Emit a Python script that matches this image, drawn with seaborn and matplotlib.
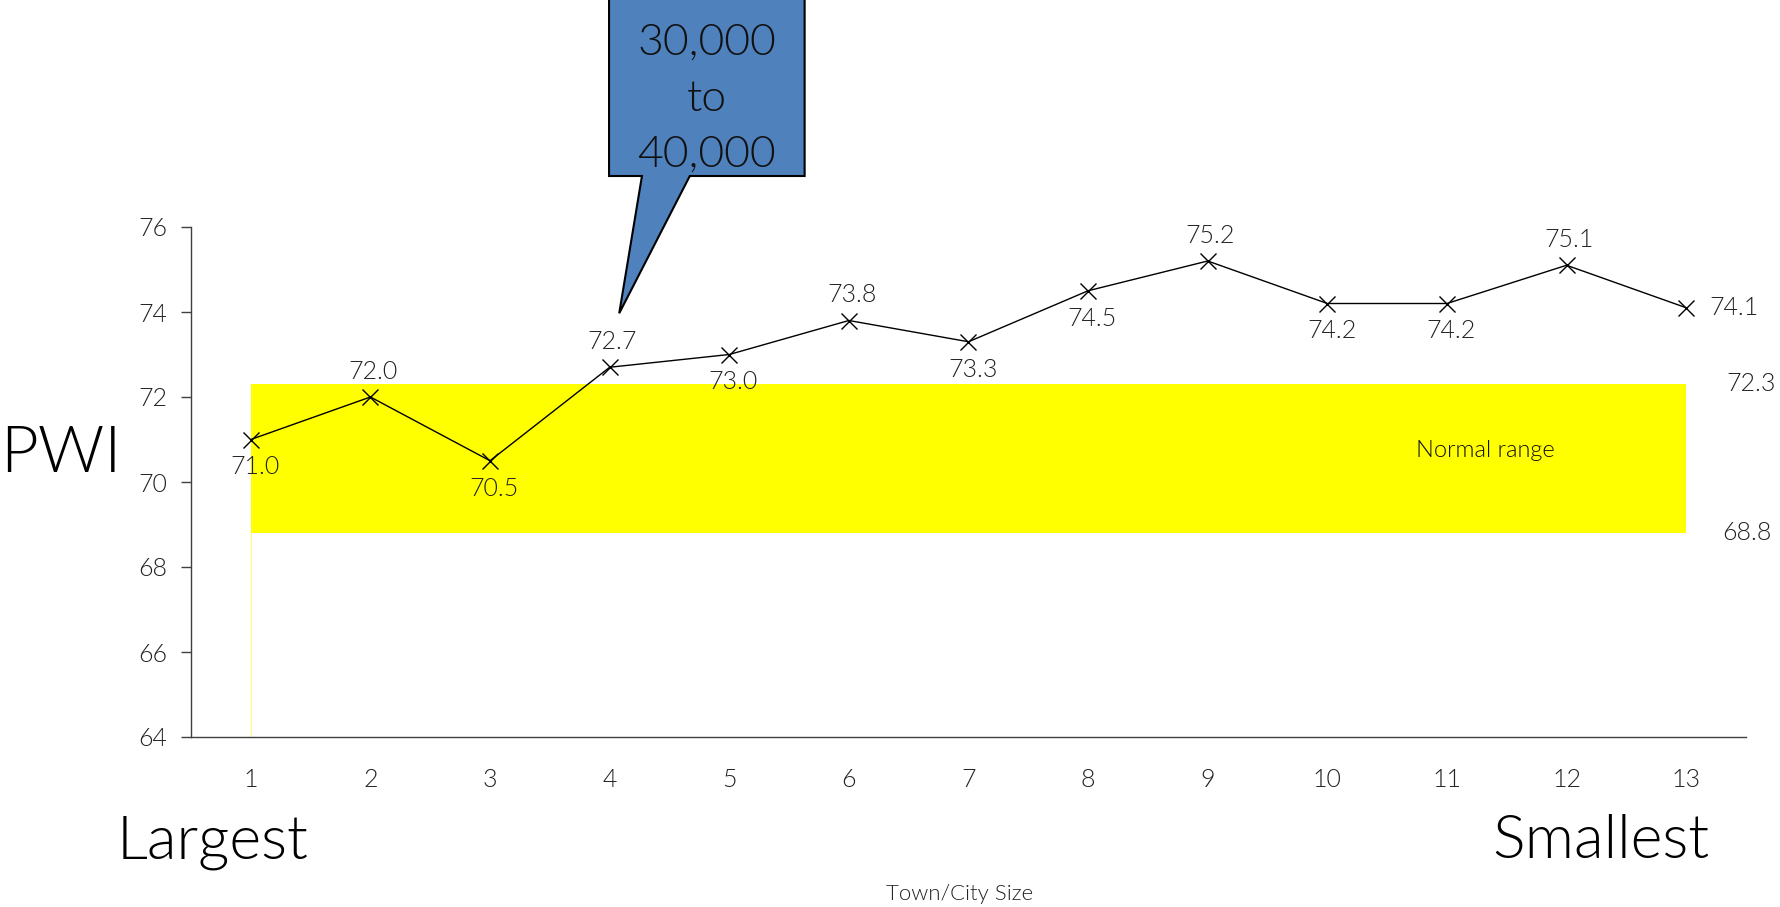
import matplotlib
matplotlib.use("Agg")
import matplotlib.pyplot as plt
from matplotlib import font_manager
from matplotlib.patches import Polygon, Rectangle
import numpy as np
import pandas as pd
import seaborn as sns

# Town/city size groups, largest (1) to smallest (13), and mean PWI per group
size_group = [1, 2, 3, 4, 5, 6, 7, 8, 9, 10, 11, 12, 13]
pwi = [71.0, 72.0, 70.5, 72.7, 73.0, 73.8, 73.3, 74.5, 75.2, 74.2, 74.2, 75.1, 74.1]
# where each value label sits relative to its point
label_side = ["below", "above", "below", "above", "below", "above", "below",
              "below", "above", "below", "below", "above", "right"]
y_ticks = [64, 66, 68, 70, 72, 74, 76]
normal_low, normal_high = 68.8, 72.3
callout_lines = ["30,000", "to", "40,000"]

sns.set_style("white")
fonts = font_manager.fontManager.ttflist
family, weight = "Lato", "normal"
for name in ("Lato", "Open Sans", "Roboto"):
    if any(f.name == name and f.weight == 300 for f in fonts):
        family, weight = name, 300
        break
plt.rcParams["font.family"] = [family, "DejaVu Sans"]
plt.rcParams["font.weight"] = weight

W, H = 1781, 907
fig = plt.figure(figsize=(W / 100, H / 100), dpi=100)
ax = fig.add_axes([191 / W, 1 - 737 / H, (1746 - 191) / W, (737 - 227) / H])

df = pd.DataFrame({"size": size_group, "pwi": pwi})

# normal range band
ax.add_patch(Rectangle((size_group[0], normal_low), size_group[-1] - size_group[0],
                       normal_high - normal_low, facecolor="#FFFF00", edgecolor="none",
                       zorder=1))
ax.plot([size_group[0], size_group[0]], [y_ticks[0], normal_low], color="#FFFF00",
        lw=0.6, alpha=0.7, zorder=1)

sns.lineplot(data=df, x="size", y="pwi", ax=ax, color="black", lw=1.0,
             marker="x", markersize=11, markeredgewidth=1.0, markeredgecolor="black",
             zorder=3)

ax.set_xlim(0.5, 13.5)
ax.set_ylim(y_ticks[0], y_ticks[-1])
ax.set_yticks(y_ticks)
ax.set_xticks(size_group)
ax.set_xticks(np.arange(0.5, 13.6, 1.0), minor=True)
ax.tick_params(axis="x", which="major", length=0, pad=22, labelsize=18,
               labelcolor="#222222")
ax.tick_params(axis="x", which="minor", length=7, width=1.0, color="#404040")
ax.tick_params(axis="y", length=7, width=1.0, pad=10, labelsize=18, color="#404040",
               labelcolor="#222222", left=True)
ax.set_xlabel("")
ax.set_ylabel("")
for s in ["top", "right"]:
    ax.spines[s].set_visible(False)
for s in ["left", "bottom"]:
    ax.spines[s].set_color("#404040")
    ax.spines[s].set_linewidth(1.0)

# value labels
for x, y, side in zip(size_group, pwi, label_side):
    txt = f"{y:.1f}"
    if side == "above":
        ax.annotate(txt, (x, y), xytext=(2, 18), textcoords="offset points",
                    ha="center", va="center", fontsize=18, color="#222222")
    elif side == "below":
        ax.annotate(txt, (x, y), xytext=(3, -20), textcoords="offset points",
                    ha="center", va="center", fontsize=18, color="#222222")
    else:
        ax.annotate(txt, (x, y), xytext=(17, 0), textcoords="offset points",
                    ha="left", va="center", fontsize=18, color="#222222")

# band labels
ax.text(13.34, normal_high, f"{normal_high:.1f}", ha="left", va="center",
        fontsize=18, color="#222222", clip_on=False)
ax.text(13.30, normal_low, f"{normal_low:.1f}", ha="left", va="center",
        fontsize=18, color="#222222", clip_on=False)
ax.text(11.32, 70.73, "Normal range", ha="center", va="center", fontsize=17,
        color="#111111")

# callout
callout = Polygon([(3.995, 83.0), (3.995, 77.2), (4.27, 77.2), (4.08, 73.97),
                   (4.67, 77.2), (5.63, 77.2), (5.63, 83.0)], closed=True,
                  facecolor="#4F81BD", edgecolor="black", lw=1.5, clip_on=False,
                  zorder=4)
ax.add_patch(callout)
ax.text(4.81, 79.0, "\n".join(callout_lines), ha="center", va="center", fontsize=32,
        linespacing=1.55, color="#111111", clip_on=False, zorder=5)

# axis titles
fig.text(0, 1 - 454 / H, "PWI", ha="left", va="center", fontsize=47, color="black")
fig.text(117 / W, 1 - 858 / H, "Largest", ha="left", va="baseline", fontsize=44,
         color="black")
fig.text(1709 / W, 1 - 858 / H, "Smallest", ha="right", va="baseline", fontsize=44,
         color="black")
fig.text(960 / W, 1 - 894 / H, "Town/City Size", ha="center", va="center", fontsize=16,
         color="#222222")

fig.savefig("out.png", dpi=100)
